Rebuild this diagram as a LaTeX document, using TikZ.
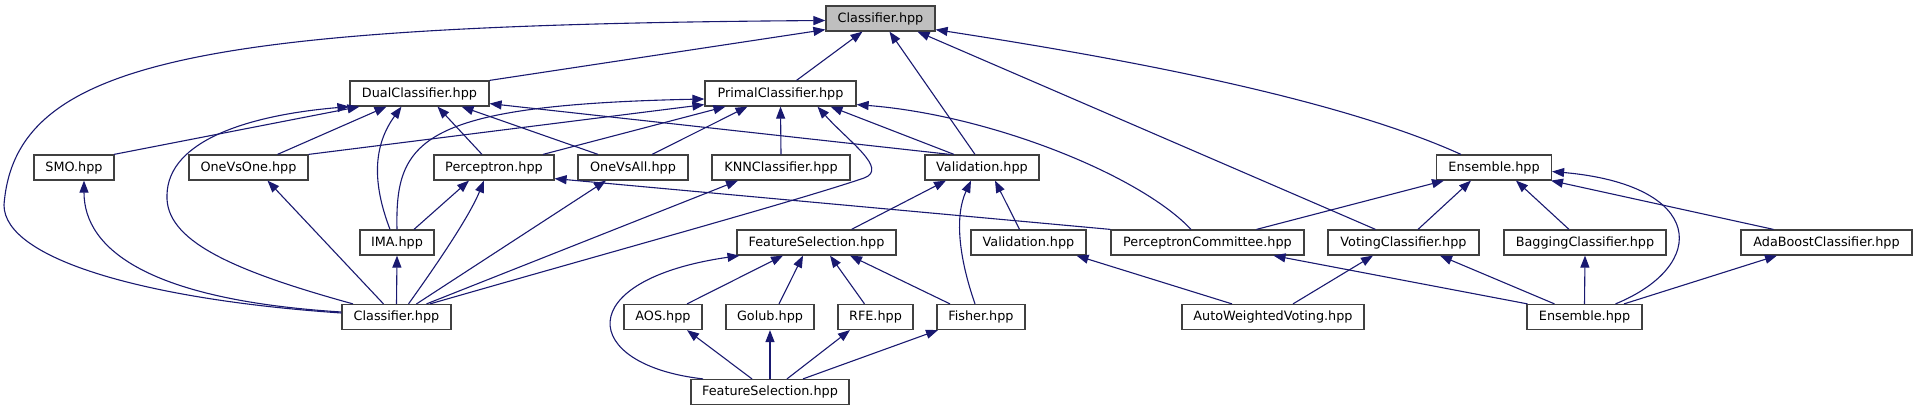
\documentclass[tikz,border=0pt]{standalone}
\usepackage{fontspec}
\setmainfont{DejaVu Sans}
\usetikzlibrary{arrows.meta}
\definecolor{edgeblue}{HTML}{191970}
\definecolor{rootgray}{HTML}{BFBFBF}
\definecolor{boxline}{HTML}{404040}

\begin{document}
\begin{tikzpicture}[x=1pt,y=-1pt,
  file/.style={draw=boxline,line width=1.2pt,fill=white,minimum height=25pt,
    inner sep=0pt,font=\fontsize{12.8}{15}\selectfont},
  edge/.style={edgeblue,line width=1.1pt,-{Triangle[length=12pt,width=9pt]}}]
  \useasboundingbox (0,0) rectangle (1917,411);
  % the header itself
  \node[file,fill=rootgray,minimum width=109] (cls) at (880.5,18.5) {Classifier.hpp};
  % files that include it
  \foreach \n/\x/\y/\w/\t in {dual/419.5/93.5/139/DualClassifier.hpp,
      primal/780.5/93.5/151/PrimalClassifier.hpp,
      smo/74/167.5/80/SMO.hpp, ovo/248.5/167.5/119/OneVsOne.hpp,
      perc/494/167.5/120/Perceptron.hpp, ova/633/167.5/110/OneVsAll.hpp,
      knn/781/167.5/138/KNNClassifier.hpp, valid/982/167.5/114/Validation.hpp,
      ens/1494/167.5/115/Ensemble.hpp,
      ima/397/242.5/74/IMA.hpp, fsel/816.5/242.5/159/FeatureSelection.hpp,
      valid2/1028.5/242.5/115/Validation.hpp,
      pcom/1207.5/242.5/193/PerceptronCommittee.hpp,
      vote/1403.5/242.5/151/VotingClassifier.hpp,
      bag/1585/242.5/162/BaggingClassifier.hpp,
      ada/1826.5/242.5/171/AdaBoostClassifier.hpp,
      cls2/396.5/317/109/Classifier.hpp, aos/663/317/78/AOS.hpp,
      golub/770/317/88/Golub.hpp, rfe/875.5/317/75/RFE.hpp,
      fisher/981/317/88/Fisher.hpp, awv/1273/317/182/AutoWeightedVoting.hpp,
      ens2/1584.5/317/115/Ensemble.hpp,
      fsel2/770/392/158/FeatureSelection.hpp}
    \node[file,minimum width=\w] (\n) at (\x,\y) {\t};
  % straight includes, top of child to bottom of parent
  \foreach \c/\cx/\p/\px in {primal/16/cls/-18, valid/-7/cls/9, vote/-28/cls/37,
      smo/40/dual/-60, ovo/29/dual/-33, perc/-12/dual/18, ova/-35/dual/42,
      perc/49/primal/-55, ova/19/primal/-33, knn/0/primal/0, valid/-28/primal/50,
      ima/17/perc/-25, cls2/-13/ovo/19, cls2/20/ova/-27, cls2/30/knn/-43,
      cls2/0/ima/0, fsel/35/valid/-36, valid2/-9/valid/13,
      pcom/49/ens/-50, vote/14.5/ens/-23, bag/-16/ens/22, ada/-53/ens/57,
      aos/24/fsel/-33.5, golub/9/fsel/-13.5, rfe/-11/fsel/13.5, fisher/-31/fsel/33.5,
      awv/-41/valid2/48, ens2/-57/pcom/66, awv/20/vote/-30.5, ens2/-30/vote/36.5,
      ens2/0/bag/0, ens2/39.5/ada/-49.5,
      fsel2/-18/aos/24, fsel2/0/golub/0, fsel2/17/rfe/-25.5, fsel2/33/fisher/-43}
    \draw[edge] ([xshift=\cx]\c.north) -- ([xshift=\px]\p.south);
  % the rest
  \draw[edge] (dual.north east) -- ([yshift=2]cls.south west);
  \draw[edge] ([xshift=-33]ens.north) .. controls (1330,95) and (1100,55) .. ([yshift=2]cls.south east);
  \draw[edge] ([yshift=4]cls2.west) .. controls (150,300) and (4,260) .. (4,205)
    .. controls (15,60) and (200,25) .. ([yshift=-2]cls.west);
  \draw[edge] ([xshift=-32]valid.north) -- ([yshift=3]dual.south east);
  \draw[edge] ([xshift=-43.5]cls2.north) .. controls (230,270) and (165,240) .. (167,195)
    .. controls (168,140) and (250,115) .. (dual.south west);
  \draw[edge] ([xshift=-7]ima.north) .. controls (375,190) and (370,150) .. ([xshift=-18]dual.south);
  \draw[edge] (ima.north) .. controls (395,140) and (420,105) .. ([yshift=-5.5]primal.west);
  \draw[edge] (ovo.north east) -- ([yshift=2]primal.south west);
  \draw[edge] ([xshift=33.5]cls2.north) .. controls (600,255) and (800,200) .. (864,178)
    .. controls (889,169) and (848,141) .. ([xshift=37]primal.south);
  \draw[edge] ([xshift=-16.5]pcom.north) .. controls (1140,175) and (990,115) .. ([yshift=2]primal.south east);
  \draw[edge] ([yshift=5]cls2.west) .. controls (150,300) and (84,250) .. ([xshift=10]smo.south);
  \draw[edge] ([xshift=12]cls2.north) .. controls (440,260) and (470,215) .. ([xshift=-10]perc.south);
  \draw[edge] (pcom.north west) -- ([yshift=2]perc.south east);
  \draw[edge] ([xshift=-6]fisher.north) .. controls (958,255) and (955,215) .. ([xshift=-11]valid.south);
  \draw[edge] ([xshift=31]ens2.north) .. controls (1710,265) and (1705,185) .. ([yshift=-4]ens.east);
  \draw[edge] ([xshift=-67]fsel2.north) .. controls (580,365) and (570,280) .. ([xshift=-77]fsel.south);
\end{tikzpicture}
\end{document}
